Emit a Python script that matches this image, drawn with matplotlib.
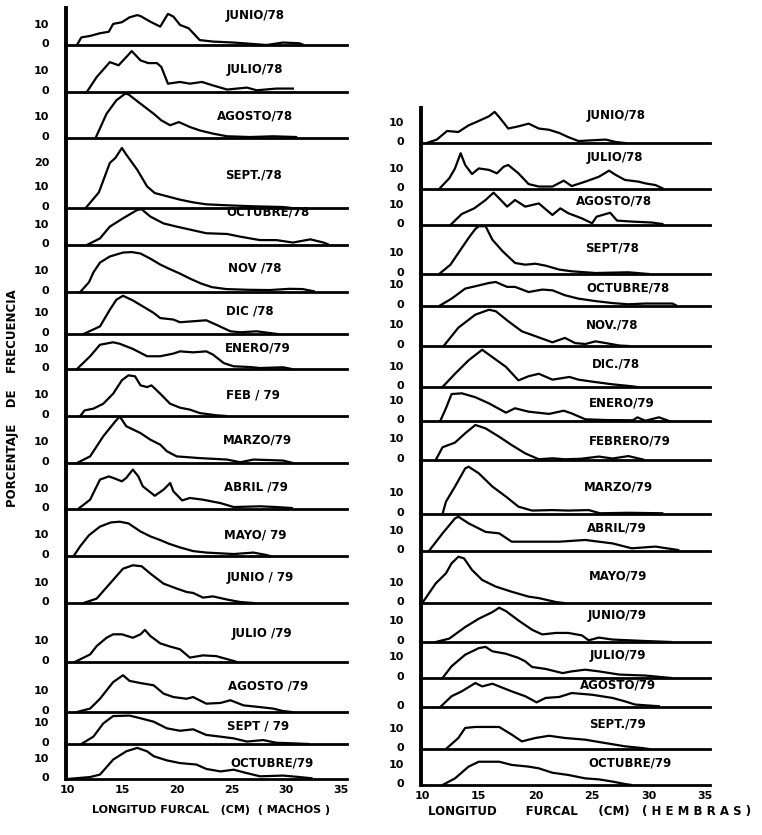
import matplotlib
matplotlib.use("Agg")
import matplotlib.pyplot as plt
import matplotlib.transforms as mtransforms

# ---------------- data (length cm, percent) ----------------
MONTHS_M = ["JUNIO/78", "JULIO/78", "AGOSTO/78", "SEPT./78", "OCTUBRE/78", "NOV /78",
            "DIC /78", "ENERO/79", "FEB / 79", "MARZO/79", "ABRIL /79", "MAYO/ 79",
            "JUNIO / 79", "JULIO /79", "AGOSTO /79", "SEPT / 79", "OCTUBRE/79"]
MONTHS_H = ["JUNIO/78", "JULIO/78", "AGOSTO/78", "SEPT/78", "OCTUBRE/78", "NOV./78",
            "DIC./78", "ENERO/79", "FEBRERO/79", "MARZO/79", "ABRIL/79", "MAYO/79",
            "JUNIO/79", "JULIO/79", "AGOSTO/79", "SEPT./79", "OCTUBRE/79"]
X_TICKS = [10, 15, 20, 25, 30, 35]

M_JUN78 = [(10.9,0),(11.3,3.1),(12.1,3.7),(13.0,4.8),(13.8,5.4),(14.2,8.6),(15.0,9.3),(15.7,11.3),(16.4,12.2),(16.7,11.8),(17.6,9.5),(18.5,7.5),(19.2,12.7),(19.7,11.6),(20.3,8.2),(21.1,6.8),(22.1,2.0),(23.3,1.4),(25.2,1.0),(27.0,0.4),(28.2,0),(29.7,1.0),(31.2,0.7),(31.6,0)]
M_JUL78 = [(11.8,0),(12.7,6.1),(13.9,12.2),(14.7,10.9),(15.9,16.7),(16.7,12.9),(17.4,11.8),(18.2,11.8),(18.6,10.2),(19.2,3.4),(20.3,4.1),(21.2,3.4),(22.3,4.1),(23.3,2.7),(24.6,1.0),(26.4,1.8),(27.3,0.7),(29.1,1.4),(30.6,1.4)]
M_AGO78 = [(12.6,0),(13.6,9.9),(14.5,15.4),(15.3,18.1),(15.6,17.8),(16.7,14.0),(17.9,9.9),(18.6,7.2),(19.4,5.2),(20.2,6.5),(21.2,4.5),(22.1,3.1),(23.3,1.8),(24.6,0.7),(26.7,0.4),(28.8,0.7),(30.9,0.4)]
M_SEP78 = [(11.7,0),(12.9,6.4),(13.9,18.4),(14.4,20.4),(15.0,24.5),(15.4,21.8),(16.4,15.6),(17.3,8.8),(18.0,6.1),(19.1,4.8),(20.3,3.4),(21.5,2.3),(22.7,1.5),(24.6,1.1),(27.0,0.7),(29.7,0.4),(30.5,0)]
M_OCT78 = [(11.8,0),(13.0,2.7),(13.9,7.5),(15.1,10.9),(16.4,14.3),(16.8,14.6),(17.6,11.6),(18.8,8.8),(20.0,7.5),(21.4,6.1),(22.7,4.8),(24.6,4.5),(25.8,3.4),(27.6,2.0),(29.1,2.0),(30.6,1.0),(32.2,2.3),(33.4,1.0),(33.8,0.3)]
M_NOV78 = [(11.2,0),(12.0,4),(12.4,8),(13.0,12),(13.9,14.5),(15.1,16.1),(15.9,16.3),(16.7,15.7),(17.6,13.6),(18.5,11.2),(19.3,9.5),(20.3,7.5),(21.2,5.5),(22.2,3.5),(23.2,2.0),(24.5,1.2),(26.5,0.9),(28.5,0.8),(30.3,1.3),(31.5,1.2),(32.5,0.3)]
M_DIC78 = [(11.5,0),(13.0,3.1),(13.9,9.9),(14.5,14.0),(15.1,15.6),(16.0,13.7),(16.9,11.3),(17.9,8.6),(18.5,6.5),(19.7,5.9),(20.3,4.8),(21.5,5.2),(22.7,5.6),(23.6,3.8),(24.9,1.1),(25.8,0.7),(27.3,1.1),(28.5,0.4),(29.2,0)]
M_ENE79 = [(10.9,0),(12.1,5.2),(13.0,9.9),(14.2,10.9),(14.8,10.3),(16.0,8.2),(17.3,5.2),(18.5,5.2),(19.7,6.3),(20.3,7.2),(21.5,6.8),(22.7,7.2),(23.3,5.9),(24.3,2.4),(25.2,1.1),(26.7,0.8),(27.6,0.4),(29.7,0.7),(30.5,0)]
M_FEB79 = [(11.2,0),(11.6,2.3),(12.4,3.0),(13.3,5.0),(14.2,9.1),(15.0,14.6),(15.6,16.6),(16.2,16.2),(16.7,12.5),(17.3,11.8),(17.7,12.5),(18.5,9.1),(19.4,5.0),(20.3,3.4),(21.2,2.6),(22.1,1.2),(23.6,0.3),(24.5,0)]
M_MAR79 = [(10.9,0),(12.1,2.7),(13.3,10.9),(14.4,17.0),(14.8,19.0),(15.4,15.0),(16.7,12.2),(17.6,9.5),(18.5,7.5),(19.1,4.8),(20.0,2.7),(22.1,2.0),(24.6,1.4),(25.8,0.3),(27.0,1.4),(29.7,1.0),(30.6,0)]
M_ABR79 = [(11.0,0),(12.1,3.8),(13.0,12.0),(13.8,13.3),(14.2,12.7),(15.0,11.3),(15.4,12.7),(16.0,16.1),(16.5,13.3),(16.9,9.3),(18.0,5.4),(18.8,7.9),(19.4,10.6),(19.7,7.2),(20.5,3.5),(21.2,4.5),(22.4,3.8),(24.0,2.4),(25.2,0.8),(27.6,1.1),(29.1,0.8),(30.5,0.4)]
M_MAY79 = [(10.6,0),(11.2,4),(12.0,8.5),(13.0,12),(14.0,13.7),(14.8,14.0),(15.6,13.3),(16.7,10),(17.6,8),(18.5,6.5),(19.3,5),(20.3,3.5),(21.5,2),(22.7,1.4),(25.2,0.8),(27.0,1.4),(28.2,0.4),(28.5,0)]
M_JUN79 = [(11.5,0),(12.7,1.8),(13.9,7.9),(15.1,14.0),(16.0,15.4),(16.8,15.0),(17.6,12.0),(18.8,7.9),(20.0,5.9),(20.9,4.5),(21.5,4.1),(22.4,2.2),(23.3,2.7),(24.6,1.4),(25.8,0.4),(27.0,0)]
M_JUL79 = [(10.7,0),(12.1,3.1),(12.7,6.5),(13.6,9.9),(14.2,11.3),(15.0,11.3),(16.0,9.9),(16.7,11.3),(17.1,13.1),(17.6,10.6),(18.5,7.6),(19.4,6.3),(20.3,5.2),(21.2,1.8),(22.4,2.7),(23.6,2.4),(24.9,0.8),(25.5,0)]
M_AGO79 = [(10.9,0),(12.1,1.4),(13.0,5.4),(14.2,12.2),(15.1,15.0),(15.7,12.7),(16.7,11.8),(17.9,10.9),(18.8,7.5),(19.7,6.1),(20.9,5.4),(21.5,6.1),(22.7,3.4),(24.0,3.7),(24.9,4.8),(25.3,4.1),(26.1,2.7),(27.6,2.0),(28.8,1.4),(29.7,0.4),(30.5,0)]
M_SEP79 = [(11.3,0),(12.4,3.0),(13.3,8.4),(14.2,11.4),(15.7,11.6),(16.7,10.5),(17.9,9.1),(19.1,6.4),(20.3,5.4),(21.5,6.0),(22.7,3.7),(24.0,3.0),(25.2,2.3),(26.4,1.0),(27.9,1.6),(29.1,0.5),(31.0,0.2),(32.0,0)]
M_OCT79 = [(10.0,0),(12.1,0.8),(13.0,1.8),(14.2,7.9),(15.4,11.3),(16.4,12.7),(17.3,11.3),(17.9,9.3),(19.1,7.6),(20.3,6.5),(21.8,5.9),(22.7,4.1),(24.0,3.1),(25.2,3.8),(26.4,2.4),(27.6,1.1),(29.7,1.4),(31.2,0.8),(32.3,0.3)]

H_JUN78 = [(10.4,0),(11.3,1.4),(12.2,4.9),(13.2,4.5),(14.1,7.2),(15.0,9.0),(15.9,10.9),(16.4,12.7),(16.8,10.6),(17.6,5.9),(18.5,6.8),(19.4,7.9),(20.3,5.9),(21.2,5.4),(22.1,4.1),(22.9,2.4),(23.8,0.8),(25.0,1.1),(26.2,1.4),(27.1,0.4),(27.9,0)]
H_JUL78 = [(11.5,0),(12.4,4.4),(12.9,8.4),(13.4,14.6),(13.8,9.8),(14.4,6.1),(15.0,8.4),(15.9,7.8),(16.6,6.4),(17.2,9.1),(17.6,9.8),(18.5,6.4),(19.4,2.0),(20.3,1.0),(21.5,1.0),(22.5,3.4),(23.2,1.2),(24.4,3.0),(25.6,5.0),(26.5,7.5),(27.1,5.7),(27.9,3.7),(29.1,3.0),(29.7,2.3),(30.6,1.6),(31.2,0.3)]
H_AGO78 = [(12.5,0),(13.5,4.5),(14.6,6.8),(15.6,10.2),(16.3,13.2),(16.8,10.9),(17.5,7.5),(18.2,10.2),(19.1,7.5),(20.3,8.8),(21.5,4.1),(22.2,6.8),(22.9,4.8),(24.1,2.7),(25.0,0.7),(25.4,3.4),(26.6,5.0),(27.2,1.8),(28.5,1.4),(30.3,1.0),(31.2,0.4)]
H_SEP78 = [(11.5,0),(12.5,3.8),(13.2,8.6),(14.1,14.7),(14.7,18.4),(15.0,19.5),(15.6,19.5),(16.2,14.0),(17.1,9.3),(18.2,4.5),(19.1,3.8),(20.0,4.2),(20.9,3.4),(22.1,1.8),(23.2,1.1),(25.3,0.4),(28.2,0.7),(30.0,0)]
H_OCT78 = [(11.5,0),(12.6,3.0),(13.8,7.1),(15.0,8.4),(15.9,9.4),(16.5,9.8),(17.5,7.8),(18.2,7.8),(19.4,5.7),(20.6,6.7),(21.5,6.4),(22.6,4.4),(23.8,3.0),(25.3,2.0),(26.8,1.2),(28.2,0.7),(29.7,1.0),(32.1,1.0),(32.4,0.3)]
H_NOV78 = [(11.9,0),(13.2,7.5),(14.7,12.8),(15.9,14.8),(16.5,14.2),(17.6,10.1),(18.8,6.0),(20.0,4.0),(21.5,1.5),(22.6,3.3),(23.5,1.2),(24.4,0.8),(25.3,1.9),(26.2,1.2),(27.4,0.2),(28.2,0)]
H_DIC78 = [(11.8,0),(12.9,5.4),(14.1,10.9),(15.3,15.2),(16.2,12.2),(17.4,8.2),(18.5,2.7),(19.4,4.4),(20.3,5.4),(21.5,3.0),(23.0,4.1),(23.8,3.0),(25.3,2.0),(26.8,1.1),(28.5,0.3),(29.0,0)]
H_ENE79 = [(11.6,0),(12.1,5.2),(12.6,11.0),(13.5,11.3),(14.7,9.7),(15.9,7.2),(17.4,3.4),(18.2,5.2),(19.4,3.8),(21.2,2.9),(22.5,4.2),(23.2,3.1),(24.4,0.7),(26.2,0.4),(28.6,0.3),(29.0,1.5),(29.7,0.1),(30.9,1.5),(31.8,0)]
H_FEB79 = [(11.2,0),(11.8,5.2),(12.9,7.1),(13.8,10.9),(14.7,14.3),(15.6,12.9),(16.8,9.5),(17.9,6.1),(19.1,2.7),(20.3,0.3),(21.5,0.7),(22.6,0.3),(24.0,0.5),(25.6,1.4),(26.8,0.6),(28.2,1.6),(29.5,0.2)]
H_MAR79 = [(11.8,0),(12.1,5.0),(12.9,11.2),(13.8,18.6),(14.1,19.3),(15.0,16.6),(16.2,11.2),(17.4,7.1),(18.5,3.0),(19.7,1.4),(21.5,1.6),(22.9,1.4),(24.7,1.6),(25.7,0.3),(28.2,0.5),(31.2,0.3)]
H_ABR79 = [(10.6,0),(11.8,7.2),(12.9,13.3),(13.2,14.0),(14.1,11.3),(15.6,7.8),(16.8,7.2),(17.9,3.8),(19.1,3.8),(20.9,3.8),(22.1,3.8),(24.4,4.5),(26.8,3.1),(28.5,1.1),(30.6,1.8),(32.6,0.4)]
H_MAY79 = [(10.0,0),(10.3,1.9),(11.2,8.0),(12.1,12.1),(12.6,16.2),(13.2,18.9),(13.7,18.2),(14.4,13.5),(15.3,9.4),(16.5,6.7),(17.9,4.6),(19.4,2.6),(20.3,2.0),(21.8,0.4),(22.5,0)]
H_JUN79 = [(11.2,0),(12.4,1.4),(13.8,6.1),(15.0,9.5),(16.2,12.2),(16.8,14.0),(17.4,12.6),(18.5,8.8),(19.7,5.0),(20.6,3.1),(21.8,3.7),(22.9,3.7),(24.1,2.7),(24.7,0.7),(25.6,1.8),(26.8,1.0),(29.7,0.4),(32.0,0)]
H_JUL79 = [(11.8,0),(12.6,4.8),(13.8,9.5),(15.0,12.2),(15.6,12.7),(16.2,10.9),(17.4,9.9),(18.5,8.2),(19.1,6.8),(19.7,4.5),(20.9,3.7),(22.4,2.0),(23.2,2.7),(24.4,3.4),(25.6,2.7),(27.4,1.4),(29.7,1.0),(32.0,0)]
H_AGO79 = [(11.6,0),(12.6,4.4),(13.5,6.4),(14.7,9.8),(15.3,8.4),(16.2,9.5),(16.8,8.4),(17.9,6.4),(19.1,4.4),(20.1,1.9),(20.9,3.7),(22.1,4.1),(23.2,5.7),(25.0,5.0),(26.8,3.7),(27.9,2.3),(28.8,1.0),(30.9,0.3)]
H_SEP79 = [(12.1,0),(13.2,4.5),(13.8,8.6),(14.7,9.0),(16.8,9.0),(17.9,5.9),(18.8,3.1),(20.0,4.5),(21.2,5.4),(22.6,4.5),(24.4,3.8),(26.2,2.4),(27.9,1.1),(29.4,0.4),(30.0,0)]
H_OCT79 = [(11.8,0),(12.9,2.7),(14.1,7.5),(15.0,9.5),(16.8,9.5),(17.9,8.2),(19.4,7.5),(20.3,6.8),(21.5,5.0),(22.9,4.1),(24.4,2.7),(25.6,2.3),(26.8,1.4),(27.9,0.4),(28.5,0)]

MACHOS = [M_JUN78, M_JUL78, M_AGO78, M_SEP78, M_OCT78, M_NOV78, M_DIC78, M_ENE79, M_FEB79,
          M_MAR79, M_ABR79, M_MAY79, M_JUN79, M_JUL79, M_AGO79, M_SEP79, M_OCT79]
HEMBRAS = [H_JUN78, H_JUL78, H_AGO78, H_SEP78, H_OCT78, H_NOV78, H_DIC78, H_ENE79, H_FEB79,
           H_MAR79, H_ABR79, H_MAY79, H_JUN79, H_JUL79, H_AGO79, H_SEP79, H_OCT79]
YTICKS_M = [[0, 10]] * 3 + [[0, 10, 20]] + [[0, 10]] * 13
YTICKS_H = [[0, 10]] * 14 + [[0]] + [[0, 10]] * 2

# ---------------- layout (pixels) ----------------
W, H = 762, 835
PX_PER_PCT = 2.45
LEFT_COL = dict(x0=66, x1=347, pxcm=10.96, top=8,
                bottoms=[45, 92, 138, 208, 245, 292, 334, 369, 416, 463, 509, 556, 603, 662, 712, 744, 779],
                lab_x=[255, 255, 255, 253, 268, 255, 250, 258, 253, 257, 256, 255, 260, 262, 268, 258, 272],
                lab_y=[15, 70, 116, 175, 212, 268, 311, 348, 395, 440, 487, 535, 578, 633, 686, 726, 763])
RIGHT_COL = dict(x0=421, x1=710, pxcm=11.33, top=108,
                 bottoms=[143, 189, 225, 274, 306, 346, 387, 421, 460, 514, 551, 603, 642, 678, 707, 749, 785],
                 lab_x=[616, 615, 614, 612, 628, 612, 616, 622, 630, 618, 617, 618, 617, 618, 618, 617, 630],
                 lab_y=[115, 157, 201, 248, 288, 325, 364, 403, 441, 487, 528, 576, 616, 656, 685, 724, 763])

fig = plt.figure(figsize=(W / 100, H / 100), dpi=100)
fig.patch.set_facecolor("white")
BOLD = dict(fontweight="bold", family="DejaVu Sans", color="black")
UP = mtransforms.ScaledTranslation(0, 2 / 100, fig.dpi_scale_trans)
DOWN = mtransforms.ScaledTranslation(0, -3 / 100, fig.dpi_scale_trans)


def draw_column(col, curves, months, yticks):
    top = col["top"]
    for i, (curve, month, yt) in enumerate(zip(curves, months, yticks)):
        bottom = col["bottoms"][i]
        ax = fig.add_axes([col["x0"] / W, 1 - bottom / H,
                           (col["x1"] - col["x0"]) / W, (bottom - top) / H])
        ax.set_facecolor("none")
        ax.set_xlim(10 - 0.1, 10 - 0.1 + (col["x1"] - col["x0"]) / col["pxcm"])
        ax.set_ylim(0, (bottom - top) / PX_PER_PCT)
        xs = [p[0] for p in curve]
        ys = [p[1] for p in curve]
        ax.plot(xs, ys, color="black", lw=1.6, clip_on=False, solid_joinstyle="round")
        for s in ("top", "right"):
            ax.spines[s].set_visible(False)
        ax.spines["left"].set_linewidth(2.8)
        ax.spines["bottom"].set_linewidth(2.0)
        ax.tick_params(axis="y", length=0, pad=12)
        ax.tick_params(axis="x", length=0, pad=4)
        ax.set_yticks(yt)
        labels = ax.set_yticklabels([str(v) for v in yt], fontsize=8, **BOLD)
        for v, lab in zip(yt, labels):
            lab.set_transform(lab.get_transform() + (UP if v == 0 else DOWN))
        if i == len(curves) - 1:
            ax.set_xticks(X_TICKS)
            ax.set_xticklabels([str(v) for v in X_TICKS], fontsize=8, **BOLD)
        else:
            ax.set_xticks([])
        fig.text(col["lab_x"][i] / W, 1 - col["lab_y"][i] / H, month,
                 ha="center", va="center", fontsize=8.5, **BOLD)
        top = bottom


draw_column(LEFT_COL, MACHOS, MONTHS_M, YTICKS_M)
draw_column(RIGHT_COL, HEMBRAS, MONTHS_H, YTICKS_H)

fig.text(13 / W, 1 - 398 / H, "PORCENTAJE    DE    FRECUENCIA", rotation=90,
         ha="center", va="center", fontsize=8.5, **BOLD)
fig.text(211 / W, 1 - 810 / H, "LONGITUD FURCAL   (CM)  ( MACHOS )",
         ha="center", va="center", fontsize=8, **BOLD)
fig.text(590 / W, 1 - 812 / H, "LONGITUD       FURCAL     (CM)   ( H E M B R A S )",
         ha="center", va="center", fontsize=8.5, **BOLD)

fig.savefig("out.png", dpi=100, facecolor="white")
